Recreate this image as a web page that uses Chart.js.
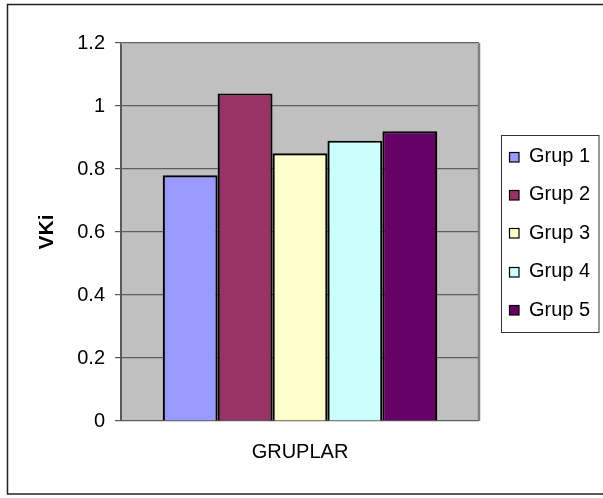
<!DOCTYPE html>
<html>
<head>
<meta charset="utf-8">
<script src="https://cdn.jsdelivr.net/npm/chart.js@4/dist/chart.umd.min.js"></script>
<style>
  html, body { margin: 0; padding: 0; background: #fff; }
  #wrap { width: 603px; height: 498px; position: relative; }
</style>
</head>
<body>
<div id="wrap"><canvas id="c" width="603" height="498"></canvas></div>
<script>
// Category and series
const categories = ['GRUPLAR'];
const seriesNames = ['Grup 1', 'Grup 2', 'Grup 3', 'Grup 4', 'Grup 5'];
const seriesValues = [0.78, 1.04, 0.85, 0.89, 0.92];
const seriesColors = ['#9999FF', '#993366', '#FFFFCC', '#CCFFFF', '#660066'];
const yTicks = [0, 0.2, 0.4, 0.6, 0.8, 1, 1.2];

const FONT = 'Arial, "Liberation Sans", sans-serif';

const datasets = seriesNames.map((name, i) => ({
  label: name,
  data: [seriesValues[i]],
  backgroundColor: seriesColors[i],
  borderColor: '#000',
  borderWidth: 2.2,
  categoryPercentage: 0.767,
  barPercentage: 1
}));

// Page frame, gray plot panel and boxed legend
const excelLook = {
  id: 'excelLook',
  beforeDraw(chart) {
    const { ctx, chartArea: a } = chart;
    ctx.save();
    ctx.fillStyle = '#fff';
    ctx.fillRect(0, 0, chart.width, chart.height);
    ctx.strokeStyle = '#222';
    ctx.lineWidth = 1.5;
    ctx.strokeRect(7.5, 4.5, 620, 489.5);
    ctx.fillStyle = '#C0C0C0';
    ctx.fillRect(a.left, a.top, a.right - a.left, a.bottom - a.top);
    ctx.restore();
  },
  afterDraw(chart) {
    const { ctx, chartArea: a } = chart;
    ctx.save();
    // panel edges
    ctx.strokeStyle = '#808080';
    ctx.lineWidth = 2.5;
    ctx.beginPath();
    ctx.moveTo(a.right, a.top);
    ctx.lineTo(a.right, a.bottom);
    ctx.stroke();
    ctx.strokeStyle = '#a8a8a8';
    ctx.lineWidth = 1;
    ctx.beginPath();
    ctx.moveTo(a.left, a.top + 0.5);
    ctx.lineTo(a.right, a.top + 0.5);
    ctx.stroke();

    // legend box
    const lx = 501.5, ly = 135.5, lw = 97.5, lh = 197;
    ctx.fillStyle = '#fff';
    ctx.fillRect(lx, ly, lw, lh);
    ctx.strokeStyle = '#333';
    ctx.lineWidth = 1;
    ctx.strokeRect(lx, ly, lw, lh);
    ctx.font = '20px ' + FONT;
    ctx.textBaseline = 'middle';
    ctx.textAlign = 'left';
    chart.data.datasets.forEach((ds, i) => {
      const cy = 156.5 + i * 38.4;
      const sy = Math.round(cy) - 4.5;
      ctx.fillStyle = ds.backgroundColor;
      ctx.fillRect(509.5, sy, 9.5, 9.5);
      ctx.strokeStyle = '#000';
      ctx.lineWidth = 1.2;
      ctx.strokeRect(509.5, sy, 9.5, 9.5);
      ctx.fillStyle = '#000';
      ctx.fillText(ds.label, 529, cy);
    });
    ctx.restore();
  }
};

new Chart(document.getElementById('c'), {
  type: 'bar',
  data: { labels: categories, datasets },
  options: {
    responsive: false,
    animation: false,
    devicePixelRatio: 1,
    layout: { padding: { left: 0, top: 43, right: 124, bottom: 0 } },
    plugins: {
      legend: { display: false },
      tooltip: { enabled: false }
    },
    scales: {
      x: {
        grid: { display: false },
        border: { display: false },
        ticks: {
          color: '#000',
          font: { family: FONT, size: 20 },
          padding: 11
        },
        afterFit(scale) { scale.height = 77; }
      },
      y: {
        min: 0,
        max: 1.2,
        afterBuildTicks(scale) { scale.ticks = yTicks.map(v => ({ value: v })); },
        ticks: {
          color: '#000',
          font: { family: FONT, size: 20 },
          padding: 10,
          callback: v => String(Math.round(v * 10) / 10)
        },
        grid: {
          color: '#5e5e5e',
          lineWidth: 1.2,
          tickLength: 6,
          tickColor: '#555'
        },
        border: { display: true, color: '#5a5a5a', width: 2 },
        title: {
          display: true,
          text: 'VKi',
          color: '#000',
          font: { family: FONT, size: 21, weight: 'bold' },
          padding: { top: 35, bottom: 0 }
        },
        afterFit(scale) { scale.width = 121; }
      }
    }
  },
  plugins: [excelLook]
});
</script>
</body>
</html>
